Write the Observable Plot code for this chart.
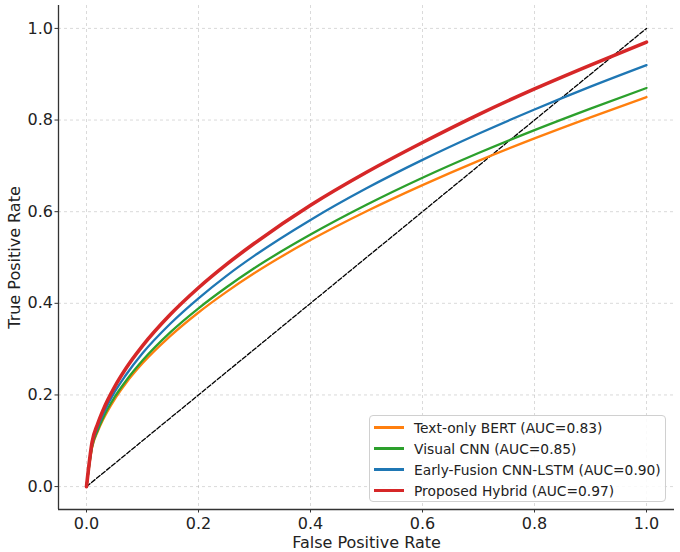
<!DOCTYPE html>
<html>
<head>
<meta charset="utf-8">
<script src="https://cdn.jsdelivr.net/npm/d3@7"></script>
<script src="https://cdn.jsdelivr.net/npm/@observablehq/plot@0.6"></script>
<style>
  body { margin: 0; background: #fff; }
  #wrap { position: relative; width: 680px; height: 552px; font-family: "DejaVu Sans", sans-serif; }
  #legend { position: absolute; left: 369px; top: 415px; width: 297px; height: 87px;
    border: 1px solid #d0d0d0; border-radius: 4px; background: rgba(255,255,255,0.85);
    box-sizing: border-box; padding-top: 1px; }
  .row { height: 21px; display: flex; align-items: center; font-size: 13.8px; color: #222; white-space: nowrap; }
  .sw { width: 30px; margin-left: 4px; margin-right: 10px; }
</style>
</head>
<body>
<div id="wrap"><div id="legend"></div></div>
<script>
const fpr = [0, 0.01, 0.02, 0.03, 0.05, 0.07, 0.1, 0.15, 0.2, 0.25, 0.3, 0.4, 0.5, 0.6, 0.7, 0.8, 0.9, 1.0];
const tprBert   = [0, 0.085, 0.120, 0.147, 0.190, 0.225, 0.269, 0.329, 0.380, 0.425, 0.466, 0.538, 0.601, 0.658, 0.711, 0.760, 0.806, 0.850];
const tprCnn    = [0, 0.087, 0.123, 0.151, 0.195, 0.230, 0.275, 0.337, 0.389, 0.435, 0.477, 0.550, 0.615, 0.674, 0.728, 0.778, 0.825, 0.870];
const tprFusion = [0, 0.092, 0.130, 0.159, 0.206, 0.243, 0.291, 0.356, 0.411, 0.460, 0.504, 0.582, 0.651, 0.713, 0.770, 0.823, 0.873, 0.920];
const tprHybrid = [0, 0.097, 0.137, 0.168, 0.217, 0.257, 0.307, 0.376, 0.434, 0.485, 0.531, 0.614, 0.686, 0.751, 0.812, 0.868, 0.920, 0.970];
const chanceX = [0, 1];
const chanceY = [0, 1];
const models = ["Text-only BERT (AUC=0.83)", "Visual CNN (AUC=0.85)", "Early-Fusion CNN-LSTM (AUC=0.90)", "Proposed Hybrid (AUC=0.97)"];
const colors = ["#ff7f0e", "#2ca02c", "#1f77b4", "#d62728"];
const widths = [2.3, 2.3, 2.3, 3.6];
const ticks = [0, 0.2, 0.4, 0.6, 0.8, 1.0];

const series = [tprBert, tprCnn, tprFusion, tprHybrid];
const tables = series.map(s => fpr.map((x, i) => ({x, y: s[i]})));
const chance = chanceX.map((x, i) => ({x, y: chanceY[i]}));

const chart = Plot.plot({
  width: 680, height: 552,
  marginLeft: 58, marginRight: 6, marginTop: 5, marginBottom: 43,
  style: { fontFamily: "DejaVu Sans, sans-serif", fontSize: "16px", color: "#222", background: "#fff" },
  x: { domain: [-0.05, 1.05] },
  y: { domain: [-0.05, 1.05] },
  marks: [
    Plot.gridX(ticks, { stroke: "#b0b0b0", strokeOpacity: 0.6, strokeDasharray: "3,3", strokeWidth: 0.8 }),
    Plot.gridY(ticks, { stroke: "#b0b0b0", strokeOpacity: 0.6, strokeDasharray: "3,3", strokeWidth: 0.8 }),
    Plot.axisX({ ticks, tickSize: 3.5, tickPadding: 4.5, stroke: "#333", tickFormat: d3.format(".1f"),
      label: "False Positive Rate", labelAnchor: "center", labelArrow: "none", labelOffset: 38 }),
    Plot.axisY({ ticks, tickSize: 3.5, tickPadding: 2, stroke: "#333", tickFormat: d3.format(".1f"),
      label: "True Positive Rate", labelAnchor: "center", labelArrow: "none", labelOffset: 50 }),
    Plot.ruleX([-0.05], { stroke: "#333", strokeWidth: 1.3 }),
    Plot.ruleY([-0.05], { stroke: "#333", strokeWidth: 1.3 }),
    Plot.line(chance, { x: "x", y: "y", stroke: "#000", strokeWidth: 1.3, strokeDasharray: "4.5,2" }),
    ...tables.map((t, i) => Plot.line(t, { x: "x", y: "y", stroke: colors[i], strokeWidth: widths[i], curve: "monotone-x" }))
  ]
});
const wrap = document.getElementById("wrap");
wrap.insertBefore(chart, wrap.firstChild);

const legend = document.getElementById("legend");
models.forEach((m, i) => {
  const row = document.createElement("div");
  row.className = "row";
  const sw = document.createElement("div");
  sw.className = "sw";
  sw.style.height = widths[i] + "px";
  sw.style.background = colors[i];
  const lab = document.createElement("span");
  lab.textContent = m;
  row.appendChild(sw); row.appendChild(lab);
  legend.appendChild(row);
});
</script>
</body>
</html>
